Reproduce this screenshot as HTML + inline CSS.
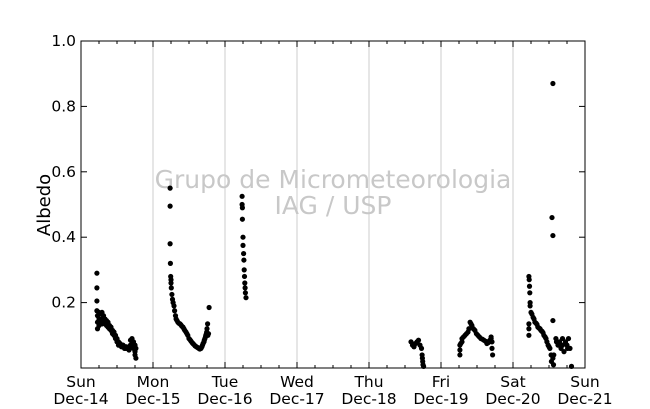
<!DOCTYPE html>
<html><head><meta charset="utf-8"><style>
html,body{margin:0;padding:0;background:#fff;}
svg{display:block;font-family:"DejaVu Sans","Liberation Sans",sans-serif;}
</style></head><body>
<svg id="chart" width="650" height="409" viewBox="0 0 650 409" xmlns="http://www.w3.org/2000/svg">
<rect x="0" y="0" width="650" height="409" fill="#fff"/>
<g id="grid"></g>
<text x="333" y="188" font-size="25" fill="#c8c8c8" text-anchor="middle">Grupo de Micrometeorologia</text>
<text x="333" y="214" font-size="25" fill="#c8c8c8" text-anchor="middle">IAG / USP</text>
<g id="marks"></g>
<rect x="81" y="41" width="504" height="327" fill="none" stroke="#000" stroke-width="1"/>
<g id="axes"></g>
<text transform="translate(50,205) rotate(-90)" font-size="18" text-anchor="middle">Albedo</text>
</svg>
<script>
// hours since Sun Dec-14 00:00
const seriesHours = [
5.3,5.3,5.3,5.3,5.5,5.5,5.5,6,6,6,6.5,6.5,7,7,7,7.5,7.5,8,8,8.5,8.5,9,9,9.5,9.5,10,10,10.5,10.5,11,11,11.5,11.5,12,12,12.5,12.5,13,13,13.5,13.5,14,14,14.5,14.5,15,15,15.5,16,16,16.5,16.5,17,17,17.5,17.5,18,18,18,18.3,18.3,
29.7,29.7,29.7,29.8,29.9,30,30,30.1,30.3,30.5,30.7,31,31.2,31.5,31.7,32,32.3,32.6,33,33.3,33.6,34,34.3,34.6,35,35.3,35.6,36,36.3,36.6,37,37.3,37.6,38,38.3,38.6,39,39.3,39.6,40,40.3,40.5,40.7,41,41.1,41.3,41.5,41.6,41.8,41.9,42,42.2,42.3,42.5,42.7,
53.7,53.7,53.8,53.8,54,54,54.2,54.3,54.4,54.5,54.6,54.7,54.8,55,
110,110.5,111,111.5,112,112.5,113,113.5,113.7,113.8,113.9,114,114.2,
126.3,126.3,126.3,126.6,127,127,127.5,128,128.5,129,129.3,129.7,130,130.3,130.8,131.3,131.8,132.3,132.8,133.3,133.8,134.3,134.8,135.3,135.3,135.8,136.3,136.7,136.7,137,137,137.2,
149.3,149.4,149.5,149.6,149.7,149.7,149.3,149.3,149.3,150,150.3,150.7,151,151.3,151.7,152,152.3,152.7,153,153.3,153.7,154,154.3,154.7,155,155.3,155.7,156,156.3,156.7,156.8,157,157.3,157.3,157.3,157.3,157.5,157.6,158.3,159,159.5,160,160.5,161,161.5,162,162.5,163,163.5,158.5,160.5,162.2
];
const seriesAlbedo = [
0.29,0.245,0.205,0.175,0.16,0.14,0.12,0.17,0.15,0.13,0.165,0.145,0.17,0.15,0.135,0.16,0.14,0.15,0.135,0.145,0.13,0.14,0.125,0.13,0.12,0.125,0.115,0.115,0.105,0.11,0.1,0.1,0.09,0.09,0.08,0.08,0.07,0.075,0.07,0.07,0.065,0.07,0.065,0.065,0.06,0.065,0.06,0.06,0.065,0.055,0.085,0.07,0.09,0.075,0.08,0.06,0.07,0.05,0.04,0.06,0.03,
0.55,0.495,0.38,0.32,0.28,0.27,0.26,0.245,0.225,0.21,0.2,0.19,0.175,0.16,0.15,0.145,0.14,0.137,0.135,0.132,0.128,0.125,0.12,0.115,0.11,0.105,0.1,0.09,0.087,0.083,0.078,0.075,0.072,0.068,0.066,0.064,0.062,0.06,0.058,0.06,0.065,0.07,0.075,0.08,0.085,0.09,0.095,0.1,0.105,0.11,0.12,0.135,0.1,0.105,0.185,
0.525,0.5,0.49,0.455,0.4,0.375,0.35,0.33,0.3,0.28,0.26,0.245,0.23,0.215,
0.08,0.07,0.065,0.075,0.08,0.085,0.07,0.06,0.04,0.03,0.02,0.01,0.005,
0.04,0.055,0.07,0.075,0.08,0.09,0.095,0.1,0.105,0.11,0.12,0.14,0.135,0.13,0.12,0.115,0.105,0.1,0.095,0.09,0.088,0.085,0.082,0.08,0.075,0.078,0.085,0.09,0.095,0.08,0.06,0.04,
0.28,0.27,0.25,0.23,0.2,0.19,0.135,0.1,0.12,0.17,0.165,0.155,0.15,0.14,0.137,0.133,0.125,0.122,0.12,0.115,0.112,0.108,0.1,0.095,0.09,0.08,0.07,0.065,0.06,0.04,0.02,0.46,0.405,0.145,0.87,0.03,0.01,0.04,0.09,0.07,0.08,0.06,0.09,0.05,0.08,0.07,0.09,0.06,0.005,0.08,0.07,0.06
];
const dayLabels = ["Sun","Mon","Tue","Wed","Thu","Fri","Sat","Sun"];
const dateLabels = ["Dec-14","Dec-15","Dec-16","Dec-17","Dec-18","Dec-19","Dec-20","Dec-21"];
const yTicks = [0.2,0.4,0.6,0.8,1.0];

const X0=81,X1=585,Y0=368,Y1=41;
const xScale=h=>X0+(h/168)*(X1-X0);
const yScale=v=>Y0-v*(Y0-Y1);
const NS="http://www.w3.org/2000/svg";
function mk(tag,parent,attrs){const e=document.createElementNS(NS,tag);for(const k in attrs)e.setAttribute(k,attrs[k]);parent.appendChild(e);return e;}
const grid=document.getElementById('grid'),axes=document.getElementById('axes'),marks=document.getElementById('marks');
for(let d=1;d<7;d++){const x=xScale(d*24);
 const l=mk('line',grid,{x1:x,x2:x,y1:Y1,y2:Y0,stroke:'#cccccc','stroke-width':1});
 
 }
for(let h=6;h<168;h+=6){const x=xScale(h);const len=(h%24===0)?6:3;
 const t=mk('line',axes,{x1:x,x2:x,y1:Y0,y2:Y0-len,stroke:'#000'});
 
 
 const t2=mk('line',axes,{x1:x,x2:x,y1:Y1,y2:Y1+len,stroke:'#000'});
 
 }
dayLabels.forEach((lab,i)=>{const x=xScale(i*24);
 const a=mk('text',axes,{x:x,y:387,'font-size':15.5,'text-anchor':'middle'});a.textContent=lab;
 
 
 const b=mk('text',axes,{x:x,y:404,'font-size':15.5,'text-anchor':'middle'});b.textContent=dateLabels[i];
 
 });
yTicks.forEach(v=>{const y=yScale(v);
 const t=mk('line',axes,{x1:X0,x2:X0+6,y1:y,y2:y,stroke:'#000'});
 
 
 const t2=mk('line',axes,{x1:X1,x2:X1-6,y1:y,y2:y,stroke:'#000'});
 
 
 const l=mk('text',axes,{x:X0-5,y:y+5,'font-size':15.5,'text-anchor':'end'});l.textContent=v.toFixed(1);
 
 });
seriesHours.forEach((h,i)=>{
 const c=mk('circle',marks,{cx:xScale(h),cy:yScale(seriesAlbedo[i]),r:2.6,fill:'#000'});
 
 });
</script>
</body></html>
